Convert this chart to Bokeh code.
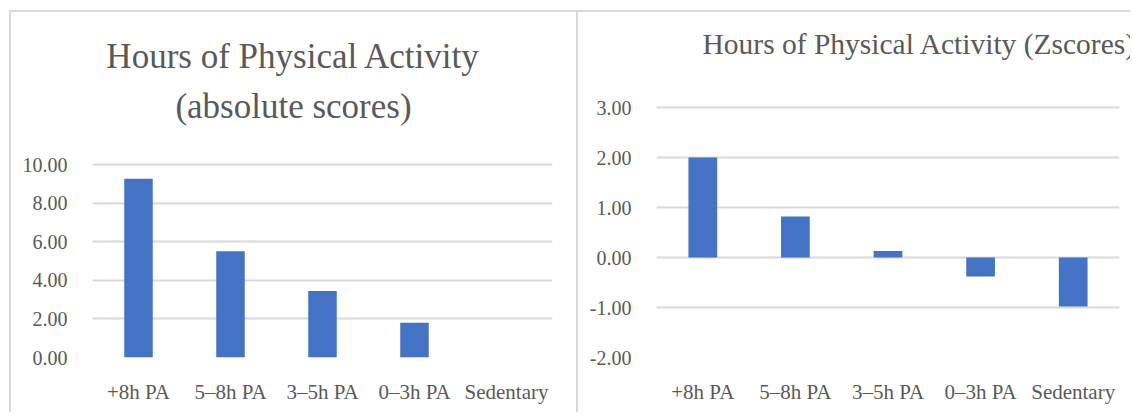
from bokeh.plotting import figure
from bokeh.layouts import row
from bokeh.models import FixedTicker, NumeralTickFormatter, Label
from bokeh.embed import file_html
from bokeh.resources import INLINE

# Categories and values
categories = ["+8h PA", "5\u20138h PA", "3\u20135h PA", "0\u20133h PA", "Sedentary"]
absolute_scores = [9.26, 5.51, 3.44, 1.80, 0.0]
z_scores = [2.00, 0.82, 0.13, -0.38, -0.98]
abs_ticks = [0, 2, 4, 6, 8, 10]
z_ticks = [-2, -1, 0, 1, 2, 3]

FONT = "Liberation Serif"
TEXT = "#595959"
GRID = "#d9d9d9"
BAR = "#4472C4"
BORDER = "2px solid #d9d9d9"

CANVAS_H = 400          # height of each plot canvas
TOP = 90                # space above the frame, holds the titles
BOTTOM = 55             # space below the frame, holds the category labels
FRAME_H = CANVAS_H - TOP - BOTTOM
ABS_PX = 19.3           # pixels per unit, left panel
Z_PX = 50.0             # pixels per unit, right panel


def style(p, ticks):
    p.outline_line_color = None
    p.background_fill_color = "white"
    p.border_fill_color = "white"
    p.xgrid.grid_line_color = None
    p.ygrid.grid_line_color = GRID
    p.ygrid.grid_line_width = 2
    p.yaxis.ticker = FixedTicker(ticks=ticks)
    p.yaxis.formatter = NumeralTickFormatter(format="0.00")
    for ax in (p.xaxis, p.yaxis):
        ax.axis_line_color = None
        ax.major_tick_line_color = None
        ax.minor_tick_line_color = None
        ax.major_label_text_font = FONT
        ax.major_label_text_color = TEXT
    p.yaxis.major_label_text_font_size = "20px"
    p.xaxis.major_label_text_font_size = "21px"
    p.yaxis.major_label_standoff = 19
    p.xaxis.major_label_standoff = 16
    p.x_range.range_padding = 0


# Left panel: absolute scores
p1 = figure(x_range=categories, y_range=(0, FRAME_H / ABS_PX),
            width=565, height=CANVAS_H,
            min_border_left=81, min_border_right=24, min_border_top=TOP,
            min_border_bottom=BOTTOM,
            output_backend="svg", toolbar_location=None)
p1.vbar(x=categories, top=absolute_scores, bottom=0, width=0.31,
        color=BAR, line_color=None)
style(p1, abs_ticks)
for txt, yb in (("Hours of Physical Activity", 44), ("(absolute scores)", 94)):
    p1.add_layout(Label(x=282, y=yb, x_units="canvas", y_units="canvas",
                        text=txt, text_align="center", text_baseline="alphabetic",
                        text_font=FONT, text_font_size="35px", text_color=TEXT),
                  "above")

# Right panel: z-scores
p2 = figure(x_range=categories, y_range=(-2, -2 + FRAME_H / Z_PX),
            width=554, height=CANVAS_H,
            min_border_left=78, min_border_right=13, min_border_top=TOP,
            min_border_bottom=BOTTOM,
            output_backend="svg", toolbar_location=None,
            styles={"border-left": BORDER})
p2.vbar(x=categories, top=z_scores, bottom=0, width=0.31,
        color=BAR, line_color=None)
style(p2, z_ticks)
p2.add_layout(Label(x=122, y=31, x_units="canvas", y_units="canvas",
                    text="Hours of Physical Activity (Zscores)", text_align="left",
                    text_baseline="alphabetic", text_font=FONT,
                    text_font_size="29.5px", text_color=TEXT), "above")

layout = row(p1, p2, spacing=0,
             styles={"margin-left": "9px", "margin-top": "10px",
                     "border-top": BORDER, "border-left": BORDER})
open("out.html", "w").write(file_html(layout, INLINE))
